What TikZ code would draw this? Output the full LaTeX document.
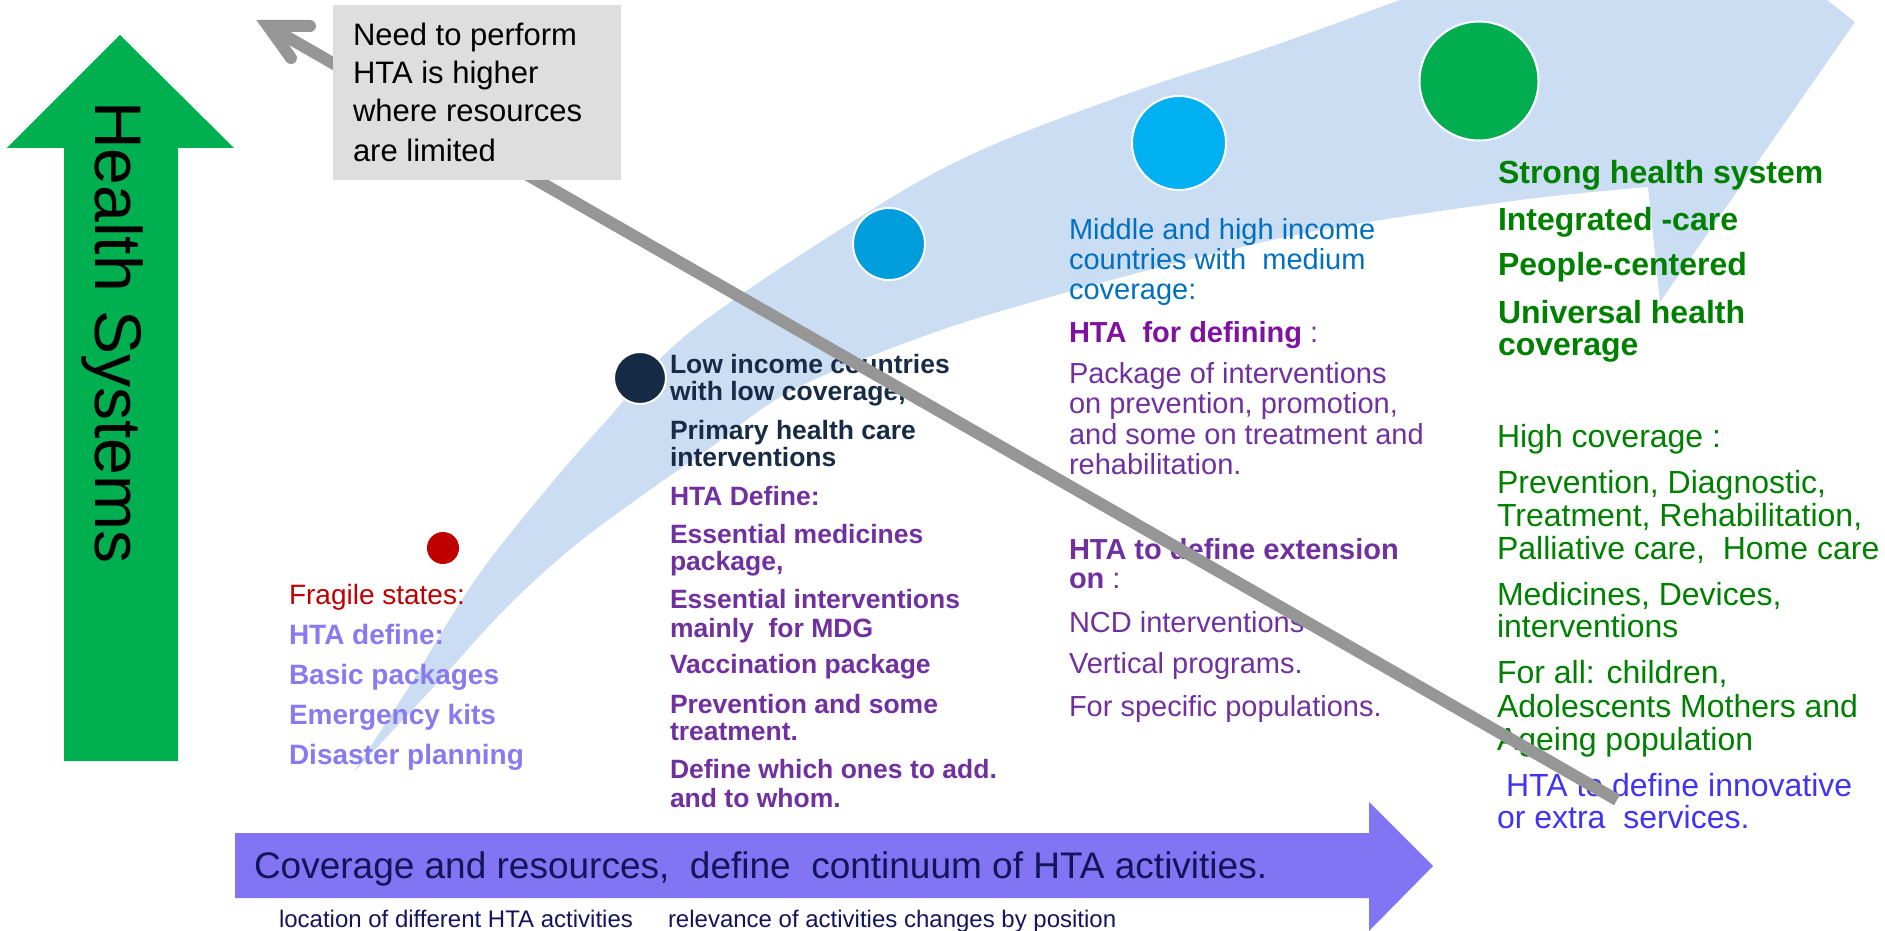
\documentclass[tikz,border=0pt]{standalone}
\usepackage{fontspec}
\setmainfont{Liberation Sans}
\definecolor{hsgreen}{HTML}{00B050}
\definecolor{swoosh}{RGB}{203,221,243}
\definecolor{navycirc}{RGB}{21,43,69}
\definecolor{midblue}{HTML}{009DDC}
\definecolor{ltblue}{HTML}{00B0F0}
\definecolor{biggreen}{HTML}{00AD4F}
\definecolor{dotred}{HTML}{C00000}
\definecolor{arrpurple}{RGB}{130,117,243}
\definecolor{arrtext}{RGB}{20,20,90}
\definecolor{navytxt}{RGB}{23,43,70}
\definecolor{purp}{HTML}{7030A0}
\definecolor{magpurp}{RGB}{128,16,160}
\definecolor{fragpurp}{RGB}{137,122,240}
\definecolor{midtxt}{HTML}{0070C0}
\definecolor{greentxt}{HTML}{008000}
\definecolor{innov}{RGB}{64,52,240}
\definecolor{linegray}{HTML}{969696}
\definecolor{boxgray}{HTML}{DEDEDE}
\newcommand{\myfs}[1]{\fontsize{#1}{#1}\selectfont}
\begin{document}
\begin{tikzpicture}[x=1pt,y=-1pt,
  txt/.style={anchor=base west, inner sep=0pt, outer sep=0pt},
  dot/.style={circle, draw=white, line width=2pt, inner sep=0pt},
  boxtxt/.style={txt, font=\myfs{31}, text=black},
  fragtxt/.style={txt, font=\myfs{28}\bfseries, text=fragpurp},
  lowtxt/.style={txt, font=\myfs{26.5}\bfseries, text=navytxt},
  lowhta/.style={txt, font=\myfs{26.5}\bfseries, text=purp},
  midtxt/.style={txt, font=\myfs{29}, text=midtxt},
  midpurp/.style={txt, font=\myfs{29}, text=purp},
  strongtxt/.style={txt, font=\myfs{32}\bfseries, text=greentxt},
  hightxt/.style={txt, font=\myfs{32}, text=greentxt},
  innovtxt/.style={txt, font=\myfs{32}, text=innov}]
\useasboundingbox (0,0) rectangle (1885,931);

% light blue swoosh
\begin{scope}
\clip (0,0) rectangle (1885,931);
\fill[swoosh] plot[smooth, tension=0.6] coordinates {(353,773) (407,690) (473,583) (540,497) (607,420) (690,332) (860,217) (977,152) (1133,92) (1267,48) (1400,0) (1428,-10)}
  -- (1814,-10) -- (1855,22) -- (1660,302) -- (1648,187)
  -- plot[smooth, tension=0.6] coordinates {(1648,187) (1520,200) (1333,228) (1200,257) (1050,297) (927,335) (793,390) (707,450) (640,497) (573,547) (507,607) (440,680) (353,773)}
  -- cycle;
\end{scope}

% circles
\node[circle, fill=dotred, inner sep=0pt, minimum size=32pt] (c0) at (443,548) {};
\node[dot, fill=navycirc, minimum size=52pt] (c1) at (640,378) {};
\node[dot, fill=midblue, minimum size=72pt] (c2) at (889,244) {};
\node[dot, fill=ltblue, minimum size=94pt] (c3) at (1179,143) {};
\node[dot, fill=biggreen, minimum size=119pt] (c4) at (1479,81) {};

% green vertical arrow
\fill[hsgreen] (120,35) -- (234,148) -- (178,148) -- (178,761) -- (64,761) -- (64,148) -- (7,148) -- cycle;
\node[rotate=-90, anchor=base west, inner sep=0pt, font=\myfs{66}, text=black] (hs) at (95,101) {Health Systems};

% purple horizontal arrow
\fill[arrpurple] (235,833) -- (1369,833) -- (1369,802) -- (1433,866) -- (1369,931) -- (1369,898) -- (235,898) -- cycle;
\node[txt, font=\myfs{37}, text=arrtext] (cov) at (254,878) {Coverage and resources,\ \ define\ \ continuum of HTA activities.};
\node[txt, font=\myfs{24}, text=arrtext] (loc) at (279,927) {location of different HTA activities};
\node[txt, font=\myfs{24}, text=arrtext] (rel) at (668,927) {relevance of activities changes by position};

% fragile states column
\node[txt, font=\myfs{28}, text=dotred] (f1) at (289,604) {Fragile states:};
\node[fragtxt] (f2) at (289,644) {HTA define:};
\node[fragtxt] (f3) at (289,684) {Basic packages};
\node[fragtxt] (f4) at (289,724) {Emergency kits};
\node[fragtxt] (f5) at (289,764) {Disaster planning};

% low income column
\node[lowtxt] (l1) at (670,373) {Low income countries};
\node[lowtxt] (l2) at (670,400) {with low coverage,};
\node[lowtxt] (l3) at (670,439) {Primary health care};
\node[lowtxt] (l4) at (670,466) {interventions};
\node[lowhta] (l5) at (670,505) {HTA Define:};
\node[lowhta] (l6) at (670,543) {Essential medicines};
\node[lowhta] (l7) at (670,570) {package,};
\node[lowhta] (l8) at (670,608) {Essential interventions};
\node[lowhta] (l9) at (670,637) {mainly\ \ for MDG};
\node[lowhta] (l10) at (670,673) {Vaccination package};
\node[lowhta] (l11) at (670,713) {Prevention and some};
\node[lowhta] (l12) at (670,740) {treatment.};
\node[lowhta] (l13) at (670,778) {Define which ones to add.};
\node[lowhta] (l14) at (670,807) {and to whom.};

% middle column
\node[midtxt] (m1) at (1069,239) {Middle and high income};
\node[midtxt] (m2) at (1069,269) {countries with\ \ medium};
\node[midtxt] (m3) at (1069,299) {coverage:};
\node[txt, font=\myfs{29}, text=magpurp] (m4) at (1069,342) {{\bfseries HTA\ \ for defining}\textcolor{purp}{\ :}};
\node[midpurp] (m5) at (1069,383) {Package of interventions};
\node[midpurp] (m6) at (1069,413) {on prevention, promotion,};
\node[midpurp] (m7) at (1069,444) {and some on treatment and};
\node[midpurp] (m8) at (1069,474) {rehabilitation.};
\node[midpurp] (m9) at (1069,559) {\bfseries HTA to define extension};
\node[midpurp] (m10) at (1069,588) {{\bfseries on}\ :};
\node[midpurp] (m11) at (1069,632) {NCD interventions};
\node[midpurp] (m12) at (1069,673) {Vertical programs.};
\node[midpurp] (m13) at (1069,716) {For specific populations.};

% right column
\node[strongtxt] (r1) at (1498,183) {Strong health system};
\node[strongtxt] (r2) at (1498,230) {Integrated -care};
\node[strongtxt] (r3) at (1498,275) {People-centered};
\node[strongtxt] (r4) at (1498,323) {Universal health};
\node[strongtxt] (r5) at (1498,355) {coverage};
\node[hightxt] (r6) at (1497,447) {High coverage :};
\node[hightxt] (r7) at (1497,493) {Prevention, Diagnostic,};
\node[hightxt] (r8) at (1497,526) {Treatment, Rehabilitation,};
\node[hightxt] (r9) at (1497,559) {Palliative care,\ \ Home care};
\node[hightxt] (r10) at (1497,605) {Medicines, Devices,};
\node[hightxt] (r11) at (1497,637) {interventions};
\node[hightxt] (r12) at (1497,683) {For all: children,};
\node[hightxt] (r13) at (1497,717) {Adolescents Mothers and};
\node[hightxt] (r14) at (1497,750) {Ageing population};
\node[innovtxt] (r15) at (1506,796) {HTA to define innovative};
\node[innovtxt] (r16) at (1497,828) {or extra\ \ services.};

% gray diagonal arrow
\coordinate (gstart) at (1617,800);
\coordinate (gtip) at (268,26);
\coordinate (gb1) at (310,26);
\coordinate (gb2) at (291,58);
\draw[linegray, line width=12pt, line cap=butt] (gstart) -- (gtip);
\draw[linegray, line width=12pt, line cap=round, line join=miter] (gb1) -- (gtip) -- (gb2);

% gray box
\node[fill=boxgray, anchor=north west, minimum width=288pt, minimum height=175pt, inner sep=0pt] (box) at (333,5) {};
\node[boxtxt] (b1) at (353,46) {Need to perform};
\node[boxtxt] (b2) at (353,84) {HTA is higher};
\node[boxtxt] (b3) at (353,122) {where resources};
\node[boxtxt] (b4) at (353,161) {are limited};
\end{tikzpicture}
\end{document}
